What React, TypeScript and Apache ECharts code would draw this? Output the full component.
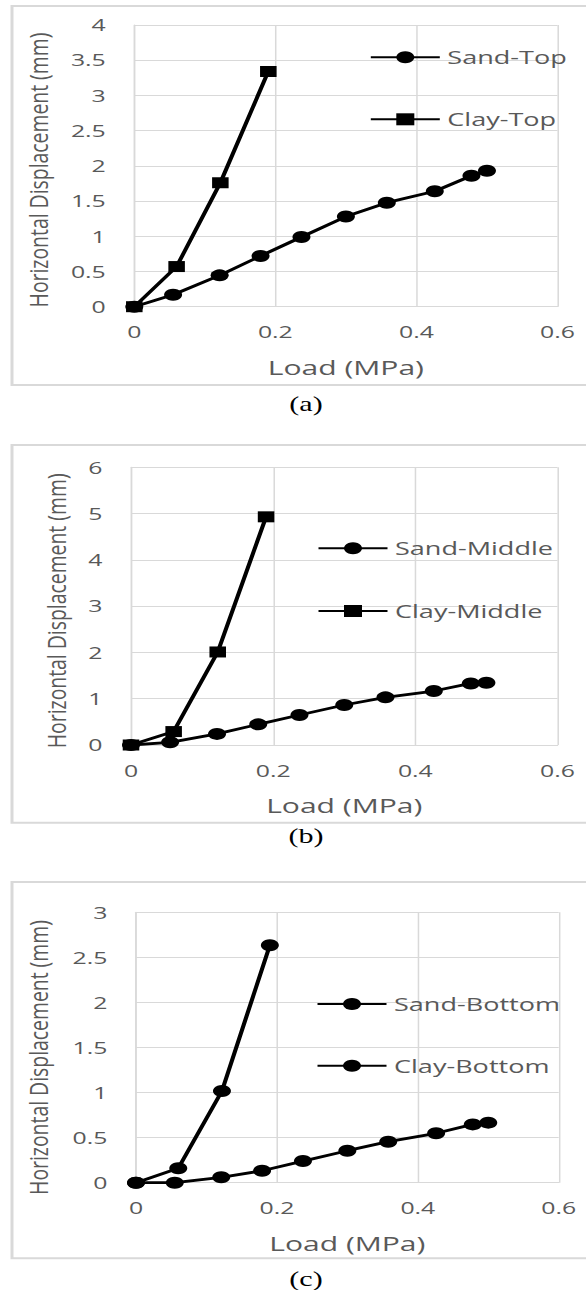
import React, { useEffect, useRef } from "react";
import * as echarts from "echarts";

// Loads (MPa) at which displacements were recorded
const sandLoad = [0, 0.055, 0.121, 0.179, 0.237, 0.3, 0.358, 0.426, 0.478, 0.5];
const clayLoad = [0, 0.06, 0.122, 0.19];

// Horizontal displacement (mm)
const sandTop = [0, 0.17, 0.445, 0.72, 0.99, 1.28, 1.477, 1.64, 1.86, 1.93];
const clayTop = [0, 0.57, 1.76, 3.34];
const sandMiddle = [0, 0.058, 0.24, 0.446, 0.648, 0.864, 1.03, 1.166, 1.33, 1.345];
const clayMiddle = [0, 0.29, 2.01, 4.93];
const sandBottom = [0, 0, 0.06, 0.133, 0.24, 0.355, 0.455, 0.548, 0.647, 0.666];
const clayBottom = [0, 0.16, 1.017, 2.634];

const xTicks = { min: 0, max: 0.6, interval: 0.2 };
const yRanges = [
  { max: 4, interval: 0.5 },
  { max: 6, interval: 1 },
  { max: 3, interval: 0.5 },
];
const captions = ["(a)", "(b)", "(c)"];
const xTitle = "Load (MPa)";
const yTitle = "Horizontal Displacement (mm)";

// The figure is drawn narrow and widened horizontally by CSS.
const BASE_W = 390;
const S = 586 / BASE_W;
const sx = (v: number) => v / S;

const FONT = "'Open Sans', 'Noto Sans', sans-serif";
const GREY = "#595959";
const GRID_LINE = "#d9d9d9";

// panel layout in page pixels
const panels = [
  { frameTop: 6, frameBottom: 385, left: 134.3, right: 557.5, top: 25, bottom: 306.7, titleX: 38, titleY: 170, legendX: 369.3, legendY: 57.3, legendStep: 62, captionY: 404 },
  { frameTop: 445, frameBottom: 822.7, left: 131, right: 557.5, top: 467.3, bottom: 745, titleX: 56, titleY: 610.8, legendX: 317, legendY: 548.3, legendStep: 62.7, captionY: 836.7 },
  { frameTop: 882, frameBottom: 1258.3, left: 136, right: 558.7, top: 912.3, bottom: 1182.7, titleX: 38, titleY: 1057.5, legendX: 316, legendY: 1004, legendStep: 61.7, captionY: 1279 },
];

const seriesDefs = [
  { name: "Sand-Top", panel: 0, load: sandLoad, disp: sandTop, symbol: "circle", size: 12 },
  { name: "Clay-Top", panel: 0, load: clayLoad, disp: clayTop, symbol: "rect", size: 11 },
  { name: "Sand-Middle", panel: 1, load: sandLoad, disp: sandMiddle, symbol: "circle", size: 12 },
  { name: "Clay-Middle", panel: 1, load: clayLoad, disp: clayMiddle, symbol: "rect", size: 11 },
  { name: "Sand-Bottom", panel: 2, load: sandLoad, disp: sandBottom, symbol: "circle", size: 12 },
  { name: "Clay-Bottom", panel: 2, load: clayLoad, disp: clayBottom, symbol: "circle", size: 12 },
];

function measure(text: string, font: string): number {
  const c = document.createElement("canvas");
  const ctx = c.getContext("2d");
  if (!ctx) return text.length * 8;
  ctx.font = font;
  return ctx.measureText(text).width;
}

export default function App() {
  const ref = useRef<HTMLDivElement>(null);

  useEffect(() => {
    if (!ref.current) return;
    const chart = echarts.init(ref.current, undefined, { renderer: "svg" });

    const titleSize = 17;
    const titleW = measure(yTitle, `${titleSize}px "Open Sans"`);
    const titleScale = 275 / titleW;

    const grid = panels.map((p) => ({
      left: sx(p.left),
      top: p.top,
      width: sx(p.right - p.left),
      height: p.bottom - p.top,
      containLabel: false,
    }));

    const lineStyleGrey = { color: GRID_LINE, width: 1 };

    const xAxis = panels.map((_, i) => ({
      type: "value",
      gridIndex: i,
      min: xTicks.min,
      max: xTicks.max,
      interval: xTicks.interval,
      name: xTitle,
      nameLocation: "middle",
      nameGap: 50,
      nameTextStyle: { fontSize: 20, color: GREY, fontFamily: FONT },
      axisLine: { show: true, lineStyle: lineStyleGrey },
      axisTick: { show: false },
      axisLabel: { fontSize: 16.5, color: GREY, fontFamily: FONT, margin: 17 },
      splitLine: { show: true, lineStyle: lineStyleGrey },
    }));

    const yAxis = panels.map((_, i) => ({
      type: "value",
      gridIndex: i,
      min: 0,
      max: yRanges[i].max,
      interval: yRanges[i].interval,
      axisLine: { show: true, lineStyle: lineStyleGrey },
      axisTick: { show: false },
      axisLabel: { fontSize: 16.5, color: GREY, fontFamily: FONT, margin: 19 },
      splitLine: { show: true, lineStyle: lineStyleGrey },
    }));

    const series = seriesDefs.map((d) => ({
      type: "line",
      name: d.name,
      xAxisIndex: d.panel,
      yAxisIndex: d.panel,
      data: d.load.map((x, k) => [x, d.disp[k]]),
      symbol: d.symbol,
      symbolSize: d.size,
      showSymbol: true,
      lineStyle: { color: "#000", width: 2.8 },
      itemStyle: { color: "#000" },
    }));

    const legend = panels.map((p, i) => ({
      orient: "vertical",
      left: sx(p.legendX),
      top: p.legendY - 10,
      padding: 0,
      itemWidth: sx(438.3 - 369.3),
      itemHeight: 15,
      itemGap: p.legendStep - 20,
      data: seriesDefs.filter((d) => d.panel === i).map((d) => d.name),
      textStyle: { fontSize: 18, color: GREY, fontFamily: FONT, lineHeight: 20 },
      selectedMode: false,
    }));

    const graphic: any[] = [];
    panels.forEach((p, i) => {
      graphic.push({
        type: "rect",
        silent: true,
        shape: { x: sx(12), y: p.frameTop, width: BASE_W + 20, height: p.frameBottom - p.frameTop },
        style: { fill: "none", stroke: GRID_LINE, lineWidth: 2 },
        z: -1,
      });
      graphic.push({
        type: "text",
        x: sx(p.titleX),
        y: p.titleY,
        rotation: Math.PI / 2,
        scaleX: titleScale,
        style: {
          text: yTitle,
          fontSize: titleSize,
          fontFamily: FONT,
          fill: GREY,
          align: "center",
          verticalAlign: "middle",
        },
      });
      graphic.push({
        type: "text",
        x: sx(306),
        y: p.captionY,
        style: {
          text: captions[i],
          fontSize: 20,
          fontFamily: "'Liberation Serif', 'Times New Roman', serif",
          fill: "#000",
          align: "center",
          verticalAlign: "middle",
        },
      });
    });

    chart.setOption({
      animation: false,
      backgroundColor: "#fff",
      grid,
      xAxis,
      yAxis,
      series,
      legend,
      graphic,
    });

    return () => chart.dispose();
  }, []);

  return (
    <div
      ref={ref}
      style={{
        position: "absolute",
        left: 0,
        top: 0,
        width: BASE_W + "px",
        height: "1290px",
        transform: `scaleX(${S})`,
        transformOrigin: "0 0",
      }}
    />
  );
}
